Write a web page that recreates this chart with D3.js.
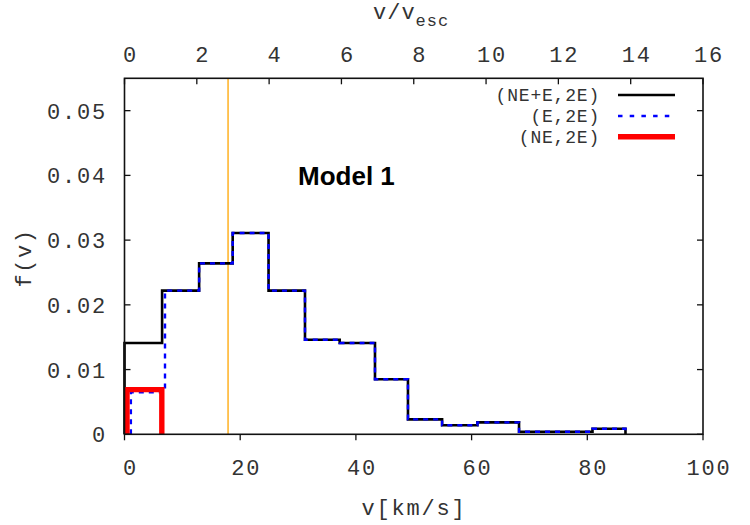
<!DOCTYPE html>
<html>
<head>
<meta charset="utf-8">
<script src="https://cdn.jsdelivr.net/npm/d3@7"></script>
<style>
  body { margin: 0; background: #fff; }
  text { font-family: "Liberation Mono", "DejaVu Sans Mono", monospace; fill: #333; }
</style>
</head>
<body>
<div id="chart"></div>
<script>
// bin edges in km/s
const binEdges = [0, 6.5, 12.9, 18.7, 24.9, 31.2, 37.2, 43.3, 49.0, 54.9, 61.0, 68.2, 74.5, 80.9, 86.6];
// (NE+E,2E)
const totalValues = [0.0141, 0.0222, 0.0264, 0.0311, 0.0222, 0.0146, 0.0141, 0.0085, 0.0023, 0.0014, 0.00185, 0.0004, 0.0004, 0.00086];
// (E,2E): first bin differs, the rest follow the total
const eEdges = [1.1, 7.0];
const eFirst = 0.0065;
// (NE,2E)
const neEdges = [0.43, 6.45];
const neValue = 0.0069;

const vEscLine = 17.9;
const xTicks = [0, 20, 40, 60, 80, 100];
const x2Ticks = [0, 2, 4, 6, 8, 10, 12, 14, 16];
const yTicks = [0, 0.01, 0.02, 0.03, 0.04, 0.05];
const yTickLabels = ["0", "0.01", "0.02", "0.03", "0.04", "0.05"];

const width = 750, height = 525;
const margin = { top: 78.3, right: 47, bottom: 90.7, left: 124.5 };

const svg = d3.select("#chart").append("svg")
    .attr("width", width)
    .attr("height", height);

const x = d3.scaleLinear().domain([0, 100]).range([margin.left, width - margin.right]);
const x2 = d3.scaleLinear().domain([0, 16]).range([margin.left, width - margin.right]);
const y = d3.scaleLinear().domain([0, 0.055]).range([height - margin.bottom, margin.top]);

// step points from edges + values
function steps(edges, values) {
    const pts = [[edges[0], 0]];
    values.forEach((v, i) => {
        pts.push([edges[i], v]);
        pts.push([edges[i + 1], v]);
    });
    pts.push([edges[edges.length - 1], 0]);
    return pts;
}

const line = d3.line().x(d => x(d[0])).y(d => y(d[1]));

// orange v_esc marker
svg.append("line")
    .attr("x1", x(vEscLine)).attr("x2", x(vEscLine))
    .attr("y1", y(0.055)).attr("y2", y(0))
    .attr("stroke", "#ffa500").attr("stroke-width", 1.3);

// total histogram
svg.append("path")
    .attr("d", line(steps(binEdges, totalValues)))
    .attr("fill", "none").attr("stroke", "#000").attr("stroke-width", 2.6);

// E histogram
const ePts = steps([eEdges[0], eEdges[1]].concat(binEdges.slice(2)), [eFirst].concat(totalValues.slice(1)));
svg.append("path")
    .attr("d", line(ePts))
    .attr("fill", "none").attr("stroke", "#0000ff").attr("stroke-width", 2.4)
    .attr("stroke-dasharray", "5,5");

// NE histogram
svg.append("path")
    .attr("d", line(steps(neEdges, [neValue])))
    .attr("fill", "none").attr("stroke", "#ff0000").attr("stroke-width", 5.4);

// frame
svg.append("rect")
    .attr("x", x(0)).attr("y", y(0.055))
    .attr("width", x(100) - x(0)).attr("height", y(0) - y(0.055))
    .attr("fill", "none").attr("stroke", "#111").attr("stroke-width", 1.6);

// ticks
const tickG = svg.append("g").attr("stroke", "#111").attr("stroke-width", 1.3);
yTicks.forEach(t => {
    tickG.append("line").attr("x1", x(0)).attr("x2", x(0) + 6).attr("y1", y(t)).attr("y2", y(t));
    tickG.append("line").attr("x1", x(100)).attr("x2", x(100) - 6).attr("y1", y(t)).attr("y2", y(t));
});
xTicks.forEach(t => {
    tickG.append("line").attr("x1", x(t)).attr("x2", x(t)).attr("y1", y(0)).attr("y2", y(0) + 6);
});
x2Ticks.forEach(t => {
    tickG.append("line").attr("x1", x2(t)).attr("x2", x2(t)).attr("y1", y(0.055)).attr("y2", y(0.055) + 6);
});

// tick labels
const tickFont = 22;
yTicks.forEach((t, i) => {
    svg.append("text")
        .attr("x", 107).attr("y", y(t) + 8)
        .attr("text-anchor", "end")
        .style("font-size", tickFont + "px").style("letter-spacing", "1.8px")
        .text(yTickLabels[i]);
});
xTicks.forEach(t => {
    svg.append("text")
        .attr("x", x(t) + 6).attr("y", 475)
        .attr("text-anchor", "middle")
        .style("font-size", tickFont + "px").style("letter-spacing", "1.8px")
        .text(t);
});
x2Ticks.forEach(t => {
    svg.append("text")
        .attr("x", x2(t) + 6).attr("y", 62)
        .attr("text-anchor", "middle")
        .style("font-size", tickFont + "px").style("letter-spacing", "1.8px")
        .text(t);
});

// axis titles
svg.append("text")
    .attr("x", 414).attr("y", 515)
    .attr("text-anchor", "middle")
    .style("font-size", "22px").style("letter-spacing", "1.8px")
    .text("v[km/s]");

const topTitle = svg.append("text")
    .attr("x", 373).attr("y", 19)
    .style("font-size", "22px").style("letter-spacing", "1px");
topTitle.append("tspan").text("v/v");
topTitle.append("tspan").attr("dy", 7).style("font-size", "17px").text("esc");

svg.append("text")
    .attr("transform", "translate(31,258) rotate(-90)")
    .attr("text-anchor", "middle")
    .style("font-size", "22px").style("letter-spacing", "1.5px")
    .text("f(v)");

// Model label
svg.append("text")
    .attr("x", 298).attr("y", 185)
    .style("font-family", "'Liberation Sans', Arial, sans-serif")
    .style("font-weight", "bold").style("font-size", "26px")
    .style("fill", "#000")
    .text("Model 1");

// legend
const legend = [
    { label: "(NE+E,2E)", color: "#000", width: 2.7, dash: null, y: 95 },
    { label: "(E,2E)", color: "#0000ff", width: 2.7, dash: "4.5,7.2", y: 116 },
    { label: "(NE,2E)", color: "#ff0000", width: 5.4, dash: null, y: 136.7 }
];
legend.forEach(d => {
    svg.append("text")
        .attr("x", 600).attr("y", d.y + 6)
        .attr("text-anchor", "end")
        .style("font-size", "18px").style("letter-spacing", "0.8px")
        .text(d.label);
    svg.append("line")
        .attr("x1", 618).attr("x2", 675)
        .attr("y1", d.y).attr("y2", d.y)
        .attr("stroke", d.color).attr("stroke-width", d.width)
        .attr("stroke-dasharray", d.dash);
});
</script>
</body>
</html>
